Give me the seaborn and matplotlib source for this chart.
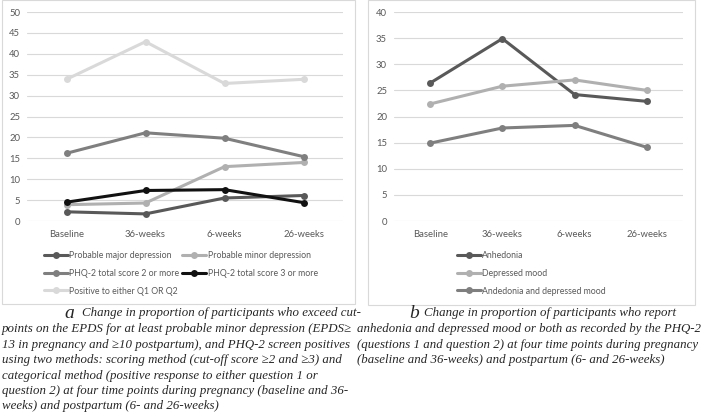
import matplotlib
matplotlib.use("Agg")
import matplotlib.pyplot as plt
import seaborn as sns
from matplotlib.patches import Rectangle

# time points (x categories)
timepoints = ["Baseline", "36-weeks", "6-weeks", "26-weeks"]

# panel a series
major_depression = [2.2, 1.7, 5.5, 6.1]
minor_depression = [3.9, 4.3, 13.0, 14.0]
phq2_score2 = [16.2, 21.1, 19.8, 15.4]
phq2_score3 = [4.5, 7.3, 7.5, 4.4]
positive_q1_q2 = [33.9, 42.9, 32.9, 33.9]

# panel b series
anhedonia = [26.4, 34.9, 24.2, 22.9]
depressed_mood = [22.4, 25.8, 27.0, 25.0]
anhedonia_and_mood = [14.9, 17.8, 18.3, 14.1]

W, H = 709, 418
sns.set_theme(style="white")
plt.rcParams['font.family'] = ['Lato', 'DejaVu Sans']

fig = plt.figure(figsize=(W / 100, H / 100), dpi=100)


def px_axes(x0, x1, ytop, ybot):
    return fig.add_axes([x0 / W, 1 - ybot / H, (x1 - x0) / W, (ybot - ytop) / H])


def style_axes(ax, ymax):
    ax.set_xlim(-0.5, 3.5)
    ax.set_ylim(0, ymax)
    ax.set_yticks(range(0, ymax + 1, 5))
    for s in ax.spines.values():
        s.set_visible(False)
    ax.grid(axis='y', color='#d9d9d9', linewidth=0.8)
    ax.grid(axis='x', visible=False)
    ax.set_axisbelow(True)
    ax.tick_params(axis='both', labelsize=6.8, labelcolor='#595959', length=0, pad=5)
    ax.tick_params(axis='x', pad=6.5)
    ax.set_xlabel("")
    ax.set_ylabel("")
    ax.patch.set_alpha(0)


def draw(ax, series):
    for name, vals, col in series:
        sns.lineplot(x=timepoints, y=vals, color=col, marker='o', markersize=5,
                     markeredgewidth=0, linewidth=2.2, sort=False, ax=ax)
        ax.get_lines()[-1].set_label(name)


# panel borders
fig.patches.append(Rectangle((2 / W, 1 - 304 / H), 353 / W, 304 / H, transform=fig.transFigure,
                             fill=False, edgecolor='#d9d9d9', linewidth=0.8))
fig.patches.append(Rectangle((368 / W, 1 - 305 / H), 327 / W, 305 / H, transform=fig.transFigure,
                             fill=False, edgecolor='#d9d9d9', linewidth=0.8))

leg_kw = dict(loc='upper left', bbox_transform=fig.transFigure, frameon=False,
              fontsize=6.3, handlelength=2.7, handletextpad=0.2,
              labelspacing=1.0, borderpad=0, borderaxespad=0, labelcolor='#595959')

# panel a
ax1 = px_axes(27, 343, 12, 221)
series_a = [
    ("Probable major depression", major_depression, '#595959'),
    ("Probable minor depression", minor_depression, '#b0b0b0'),
    ("PHQ-2 total score 2 or more", phq2_score2, '#7f7f7f'),
    ("PHQ-2 total score 3 or more", phq2_score3, '#111111'),
    ("Positive to either Q1 OR Q2", positive_q1_q2, '#d9d9d9'),
]
draw(ax1, series_a)
style_axes(ax1, 50)
lines = ax1.get_lines()
order = [0, 2, 4, 1, 3]
ax1.legend([lines[i] for i in order], [lines[i].get_label() for i in order],
           ncol=2, columnspacing=0.3, bbox_to_anchor=(44 / W, 1 - 251 / H), **leg_kw)

# panel b
ax2 = px_axes(394, 683, 12, 221)
series_b = [
    ("Anhedonia", anhedonia, '#595959'),
    ("Depressed mood", depressed_mood, '#b0b0b0'),
    ("Andedonia and depressed mood", anhedonia_and_mood, '#7f7f7f'),
]
draw(ax2, series_b)
style_axes(ax2, 40)
ax2.legend(bbox_to_anchor=(457 / W, 1 - 251 / H), **leg_kw)

# captions
serif = ['Liberation Serif', 'DejaVu Serif']
cap_size = 9.3
line_y = [313, 329, 345, 360, 376, 391, 406]

cap_a = [
    "points on the EPDS for at least probable minor depression (EPDS\u2265",
    "13 in pregnancy and \u226510 postpartum), and PHQ-2 screen positives",
    "using two methods: scoring method (cut-off score \u22652 and \u22653) and",
    "categorical method (positive response to either question 1 or",
    "question 2) at four time points during pregnancy (baseline and 36-",
    "weeks) and postpartum (6- and 26-weeks)",
]
cap_b = [
    "anhedonia and depressed mood or both as recorded by the PHQ-2",
    "(questions 1 and question 2) at four time points during pregnancy",
    "(baseline and 36-weeks) and postpartum (6- and 26-weeks)",
]

fig.text(64 / W, 1 - line_y[0] / H, "a", family=serif, style='italic', fontsize=14,
         va='center', ha='left')
fig.text(82 / W, 1 - line_y[0] / H, "Change in proportion of participants who exceed cut-",
         family=serif, style='italic', fontsize=cap_size, va='center', ha='left')
for i, t in enumerate(cap_a):
    fig.text(2 / W, 1 - line_y[i + 1] / H, t, family=serif, style='italic',
             fontsize=cap_size, va='center', ha='left')

fig.text(409 / W, 1 - line_y[0] / H, "b", family=serif, style='italic', fontsize=14,
         va='center', ha='left')
fig.text(424 / W, 1 - line_y[0] / H, "Change in proportion of participants who report",
         family=serif, style='italic', fontsize=cap_size, va='center', ha='left')
for i, t in enumerate(cap_b):
    fig.text(357 / W, 1 - line_y[i + 1] / H, t, family=serif, style='italic',
             fontsize=cap_size, va='center', ha='left')

fig.savefig("out.png", dpi=100)
